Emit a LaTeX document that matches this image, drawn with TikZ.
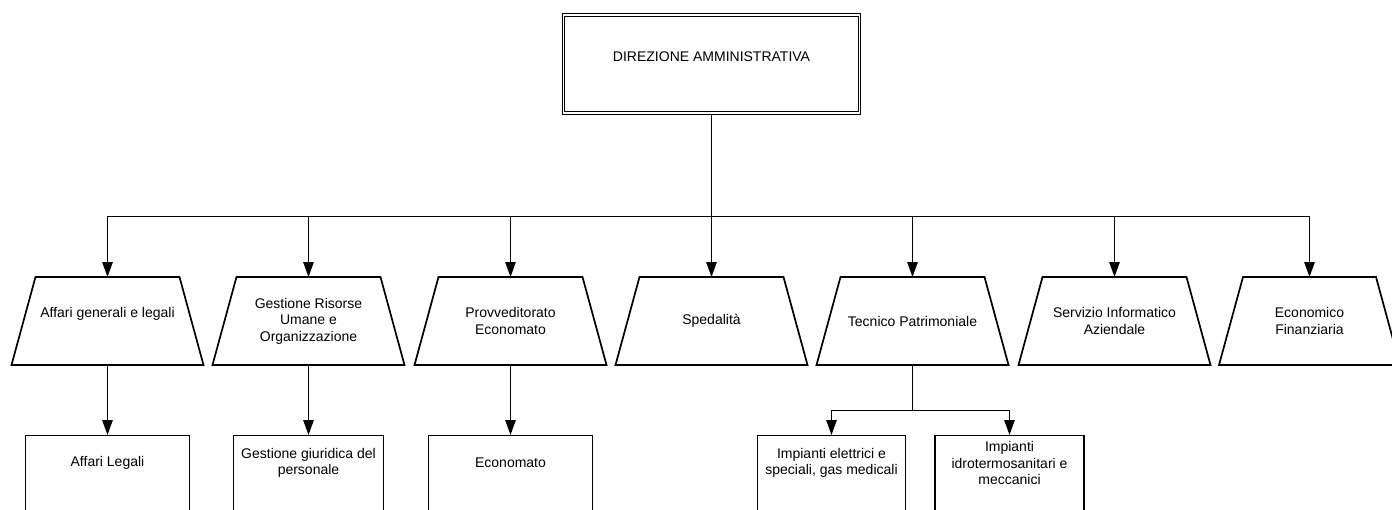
\documentclass[tikz,border=0pt]{standalone}
\usepackage{fontspec}
\setmainfont{Liberation Sans}
\usepackage{tikz}
\usetikzlibrary{arrows.meta}
\tikzstyle{ln}=[line width=1.1pt]
\tikzstyle{arr}=[ln,-{Triangle[length=15pt,width=10.5pt]}]
\tikzstyle{dirbox}=[draw,double,double distance=1.8pt,line width=1pt,minimum width=296pt,minimum height=98pt]
\tikzstyle{area}=[minimum width=192pt,minimum height=88pt,outer sep=0pt,align=center,
  append after command={\pgfextra{\draw[line width=1.7pt,line join=miter]
    (\tikzlastnode.south west) -- ([xshift=24pt]\tikzlastnode.north west)
    -- ([xshift=-24pt]\tikzlastnode.north east) -- (\tikzlastnode.south east) -- cycle;}}]
\tikzstyle{sub}=[draw,line width=1.1pt,minimum width=164pt,minimum height=110pt,anchor=north]
\tikzstyle{subtxt}=[anchor=center,yshift=-28pt,align=center]

\begin{document}
\begin{tikzpicture}[x=1pt,y=-1pt,every node/.style={font=\fontsize{14}{16.5}\selectfont,inner sep=2pt}]
	\useasboundingbox (0,0) rectangle (1392,509);
	\clip (0,0) rectangle (1392,509);
	\node[dirbox,label={[anchor=center,yshift=-42pt]north:DIREZIONE AMMINISTRATIVA}] (dir) at (711.5,64) {};
	% aree
	\node[area] (aff) at (107.5,321) {Affari generali e legali\\\mbox{}};
	\node[area] (ges) at (308.5,321) {Gestione Risorse\\Umane e\\Organizzazione};
	\node[area] (pro) at (510.5,321) {Provveditorato\\Economato};
	\node[area] (spe) at (711.5,321) {Spedalità};
	\node[area] (tec) at (912.5,321) {Tecnico Patrimoniale};
	\node[area] (ser) at (1114.5,321) {Servizio Informatico\\Aziendale};
	\node[area,minimum width=181pt] (eco) at (1309.5,321) {Economico\\Finanziaria};
	% uffici
	\node[sub,label={[subtxt]north:Affari Legali}] (leg) at (107.5,435) {};
	\node[sub,minimum width=150pt,label={[subtxt]north:{Gestione giuridica del\\personale}}] (giu) at (308.5,435) {};
	\node[sub,label={[subtxt]north:Economato}] (ecm) at (510.5,435) {};
	\node[sub,minimum width=148pt,label={[subtxt]north:{Impianti elettrici e\\speciali, gas medicali}}] (ele) at (831.5,435) {};
	\node[sub,minimum width=149pt,label={[subtxt]north:{Impianti\\idrotermosanitari e\\meccanici}}] (idr) at (1009.5,435) {};
	\coordinate (bus) at (711.5,216.5);
	\coordinate (split) at (912.5,410.5);
	\draw[ln] (dir) -- (bus);
	\draw[arr] (bus) -| (aff.north);
	\draw[arr] (bus) -| (ges.north);
	\draw[arr] (bus) -| (pro.north);
	\draw[arr] (bus) -- (spe.north);
	\draw[arr] (bus) -| (tec.north);
	\draw[arr] (bus) -| (ser.north);
	\draw[arr] (bus) -| (eco.north);
	\draw[arr] (aff) -- (leg);
	\draw[arr] (ges) -- (giu);
	\draw[arr] (pro) -- (ecm);
	\draw[ln] (tec) -- (split);
	\draw[arr] (split) -| (ele.north);
	\draw[arr] (split) -| (idr.north);
\end{tikzpicture}
\end{document}
